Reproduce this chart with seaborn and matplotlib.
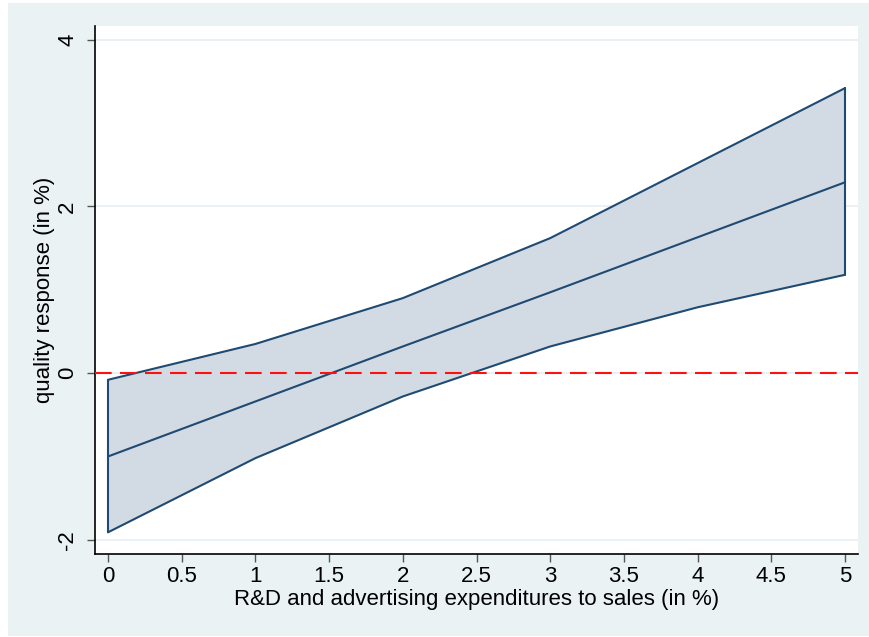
import matplotlib
matplotlib.use("Agg")
import matplotlib.pyplot as plt
import matplotlib.patches as mpatches
import seaborn as sns
import pandas as pd

x_vals = [0, 1, 2, 3, 4, 5]
center = [-1.00, -0.34, 0.32, 0.97, 1.63, 2.29]
upper = [-0.08, 0.35, 0.90, 1.62, 2.52, 3.42]
lower = [-1.91, -1.02, -0.28, 0.32, 0.79, 1.18]
x_ticks = [0, 0.5, 1, 1.5, 2, 2.5, 3, 3.5, 4, 4.5, 5]
x_tick_labels = ["0", "0.5", "1", "1.5", "2", "2.5", "3", "3.5", "4", "4.5", "5"]
y_ticks = [-2, 0, 2, 4]
y_tick_labels = ["-2", "0", "2", "4"]
x_label = "R&D and advertising expenditures to sales (in %)"
y_label = "quality response (in %)"

df = pd.DataFrame({"x": x_vals, "center": center, "upper": upper, "lower": lower})

sns.set_theme(style="white")
plt.rcParams["font.family"] = ["Liberation Sans", "DejaVu Sans"]

bg = "#EAF2F3"
navy = "#1F4A72"
fill = "#D2DBE3"

fig = plt.figure(figsize=(8.7, 6.37), dpi=100)
fig.patch.set_facecolor("white")
fig.patches.append(mpatches.Rectangle((8 / 870, 1 - 636 / 637), 1, (636 - 3) / 637,
                                      transform=fig.transFigure, facecolor=bg,
                                      edgecolor="none", zorder=-10))
ax = fig.add_axes([95 / 870, (637 - 554) / 637, (858 - 95) / 870, (554 - 26) / 637])
ax.set_facecolor("white")

for yt in y_ticks:
    ax.axhline(yt, color="#E6EEF1", lw=1.2, zorder=0)

ax.fill_between(df["x"], df["lower"], df["upper"], facecolor=fill, edgecolor="none", zorder=1)
sns.lineplot(data=df, x="x", y="upper", ax=ax, color=navy, lw=1.5, zorder=3)
sns.lineplot(data=df, x="x", y="lower", ax=ax, color=navy, lw=1.5, zorder=3)
sns.lineplot(data=df, x="x", y="center", ax=ax, color=navy, lw=1.5, zorder=3)
ax.plot([df["x"].iloc[0]] * 2, [df["lower"].iloc[0], df["upper"].iloc[0]], color=navy, lw=1.5, zorder=3)
ax.plot([df["x"].iloc[-1]] * 2, [df["lower"].iloc[-1], df["upper"].iloc[-1]], color=navy, lw=1.5, zorder=3)

ax.axhline(0, color="#FF1010", lw=1.5, ls=(0, (8, 4)), zorder=4)

ax.set_xlim(-0.088, 5.088)
ax.set_ylim(-2.17, 4.165)
ax.set_xticks(x_ticks)
ax.set_xticklabels(x_tick_labels)
ax.set_yticks(y_ticks)
ax.set_yticklabels(y_tick_labels, rotation=90, va="center")
ax.tick_params(axis="both", direction="out", length=6, width=1, color="#555555",
               labelsize=16, labelcolor="black", bottom=True, left=True)
ax.tick_params(axis="x", pad=3)
ax.tick_params(axis="y", pad=6)
ax.set_xlabel(x_label, fontsize=16, color="black", labelpad=1)
ax.set_ylabel(y_label, fontsize=16, color="black", labelpad=2)

for s in ["top", "right"]:
    ax.spines[s].set_visible(False)
for s in ["left", "bottom"]:
    ax.spines[s].set_color("black")
    ax.spines[s].set_linewidth(1.2)

fig.savefig("out.png", dpi=100, facecolor=fig.get_facecolor())
